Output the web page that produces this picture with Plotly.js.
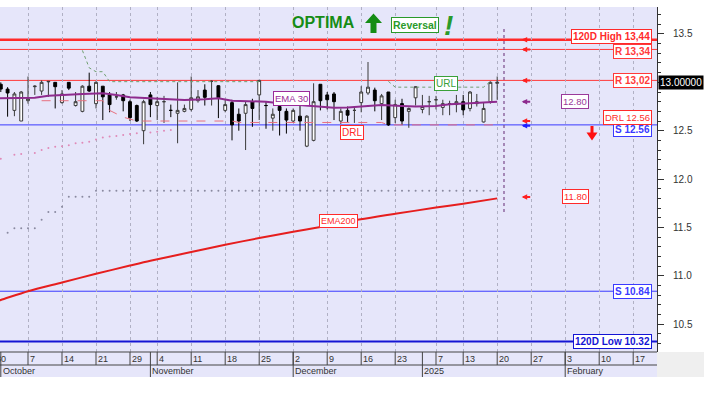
<!DOCTYPE html>
<html><head><meta charset="utf-8">
<script src="https://cdn.plot.ly/plotly-3.0.1.min.js"></script>
<style>html,body{margin:0;padding:0;background:#fff;}#chart{width:704px;height:394px;}</style>
</head><body><div id="chart"></div>
<script>
// trading-day index (0 = 30 Sep 2024, holidays skipped)
const dayIdx = [1,2,3,4,5,6,7,8,9,10,11,12,13,14,15,16,17,18,19,20,21,22,23,24,25,26,27,28,29,30,31,32,33,34,35,36,37,38,39,40,41,42,43,44,45,46,47,48,49,50,51,52,53,54,55,56,57,58,59,60,61,62,63,64,65,66,67,68,69,70,71,72,73,74];
const opens  = [12.98,12.93,12.71,12.60,12.81,12.955,12.91,13.005,13.00,12.79,13.00,12.76,12.70,12.96,12.78,12.96,12.87,12.85,12.87,12.80,12.76,12.50,12.87,12.76,12.80,12.71,12.68,12.70,12.72,12.81,12.92,13.01,12.965,12.71,12.79,12.67,12.68,12.80,12.87,12.76,12.63,12.75,12.70,12.60,12.65,12.34,12.40,12.98,12.87,12.88,12.60,12.71,12.71,12.79,12.89,12.92,12.78,12.90,12.635,12.78,12.70,12.84,12.72,12.80,12.82,12.74,12.78,12.77,12.80,12.73,12.78,12.59,12.80,12.99];
const highs  = [13.00,12.95,12.90,12.91,13.06,12.97,13.02,13.01,13.00,12.92,13.00,12.90,12.97,13.10,13.01,12.96,12.90,12.90,12.88,12.82,12.77,12.82,12.90,12.85,12.86,12.77,13.00,12.77,13.06,12.92,12.98,13.02,12.97,12.82,12.82,12.73,12.80,12.83,13.02,12.80,12.73,12.77,12.73,12.73,12.77,12.66,12.99,12.98,12.90,12.90,12.73,12.75,12.75,12.96,13.21,12.945,12.88,12.90,12.82,12.83,12.74,12.96,12.87,12.86,12.86,12.82,12.81,12.87,12.87,12.91,12.88,12.79,13.01,13.06];
const lows   = [12.90,12.645,12.65,12.60,12.78,12.87,12.87,12.85,12.73,12.78,12.92,12.75,12.69,12.90,12.73,12.61,12.69,12.82,12.70,12.60,12.59,12.36,12.64,12.61,12.58,12.64,12.37,12.69,12.70,12.79,12.76,12.76,12.63,12.69,12.40,12.50,12.30,12.54,12.61,12.52,12.50,12.45,12.47,12.58,12.50,12.33,12.39,12.71,12.72,12.61,12.57,12.59,12.58,12.69,12.87,12.70,12.61,12.55,12.58,12.56,12.53,12.76,12.68,12.66,12.72,12.66,12.66,12.69,12.66,12.70,12.75,12.585,12.78,12.82];
const closes = [12.93,12.89,12.88,12.90,12.83,12.96,13.00,13.01,12.955,12.88,12.94,12.80,12.96,12.91,13.00,12.85,12.77,12.85,12.81,12.635,12.60,12.80,12.77,12.80,12.80,12.71,12.71,12.73,12.84,12.85,12.845,13.01,12.84,12.77,12.56,12.60,12.77,12.73,13.02,12.76,12.67,12.71,12.61,12.71,12.60,12.65,12.80,12.81,12.82,12.80,12.70,12.66,12.71,12.90,12.95,12.81,12.86,12.56,12.77,12.60,12.73,12.955,12.75,12.80,12.82,12.78,12.78,12.80,12.715,12.90,12.80,12.73,13.00,13.00];

const ema30Idx = [0,1,6,8,11,13,16,18,20,23,25,28,31,33,35,38,40,43,45,48,50,52,55,57,60,62,65,67,70,72,74];
const ema30Val = [12.835,12.835,12.84,12.86,12.876,12.88,12.887,12.87,12.845,12.835,12.825,12.817,12.825,12.835,12.81,12.80,12.80,12.776,12.765,12.755,12.738,12.74,12.76,12.766,12.755,12.75,12.755,12.773,12.783,12.794,12.80];
const ema200Idx = [0,1,5,10,15,20,23,29,34,39,44,48,52,59,65,69,74];
const ema200Val = [10.73,10.75,10.84,10.93,11.02,11.105,11.155,11.245,11.32,11.39,11.455,11.505,11.56,11.64,11.705,11.745,11.80];

const urlIdx = [13,14,15,16,17,39,null,58,59,72,73];
const urlVal = [13.33,13.15,13.11,13.11,13.007,13.007,null,13.01,12.95,12.95,13.01];
const drlIdx = [7,16,17,19,21,35,36,57,58,74];
const drlVal = [12.81,12.81,12.71,12.64,12.60,12.60,12.585,12.585,12.56,12.56];
const lowBandIdx = [1,3,4,6,7,8,9,10,11,12,13,14,15,16,17,18,19,20,21,23,24,25,26];
const lowBandVal = [12.21,12.25,12.26,12.27,12.30,12.32,12.335,12.34,12.35,12.37,12.376,12.386,12.41,12.43,12.44,12.445,12.456,12.466,12.473,12.48,12.49,12.50,12.507];
const stepIdx = [2,3,4,5,6,7,8,9,10,11,12,13,14,15,16,17,18,19,20,21,22,23,24,25,26,27,28,29,30,31,32,33,34,35,36,37,38,39,40,41,42,43,44,45,46,47,48,49,50,51,52,53,54,55,56,57,58,59,60,61,62,63,64,65,66,67,68,69,70,71,72,73,74];
const stepVal = [11.445,11.49,11.49,11.49,11.49,11.58,11.66,11.66,11.714,11.817,11.817,11.817,11.817,11.88,11.88,11.88,11.88,11.88,11.88,11.88,11.88,11.88,11.88,11.88,11.88,11.88,11.88,11.88,11.88,11.88,11.88,11.88,11.88,11.88,11.88,11.88,11.88,11.88,11.88,11.88,11.88,11.88,11.88,11.88,11.88,11.88,11.88,11.88,11.88,11.88,11.88,11.88,11.88,11.88,11.88,11.88,11.88,11.88,11.88,11.88,11.88,11.88,11.88,11.88,11.88,11.88,11.88,11.88,11.88,11.88,11.88,11.88,11.88];

// horizontal levels
const levelVals   = [13.44, 13.34, 13.02, 12.56, 10.84, 10.32];
const levelLabels = ['120D High 13,44','R 13,34','R 13,02','S 12.56','S 10.84','120D Low 10.32'];
const levelColors = ['#ff2a2a','#ff3a3a','#ff3a3a','#3a3aff','#3a3aff','#1414d4'];
const levelWidths = [2.5,1,1,1,1,2];
const levelShift  = [3,-2.5,0,-4.5,0,0];

// axis ticks / labels
const yTickVals = [10.5, 11.0, 11.5, 12.0, 12.5, 13.5];
const yTickText = ['10.5','11.0','11.5','12.0','12.5','13.5'];
const weekIdx = [5,10,15,20,24,29,34,39,44,49,54,59,65,69,74,79,84,89,94];
const weekLabels = ['7','14','21','29','4','11','18','25','2','9','16','23','7','13','20','27','3','10','17'];
const monthIdx = [1,23,44,63,84];
const monthLabels = ['October','November','December','2025','February'];

const lastIdx = 75;
const priceNow = 13.0;
const ema30Last = 12.80, ema200Last = 11.80, drlLast = 12.56;

const FONT = 'Liberation Sans, Arial, sans-serif';
const BG = '#e6e6fa';
const GREEN = '#158c15';
const yRange = [10.2115, 13.779];
const xRange = [0.882, 97.5];
const pyTop = 7, pyBot = 352;
const P = py => (pyBot - py) / (pyBot - pyTop);   // pixel row -> paper y
const PX = px => px / 657;                        // pixel column -> paper x
const pathOf = pts => 'M' + pts.map(p => PX(p[0]) + ',' + P(p[1])).join('L') + 'Z';

const traces = [
  {type:'scatter', mode:'markers', x:stepIdx, y:stepVal, marker:{size:2, color:'#8a8aa0'}, hoverinfo:'skip'},
  {type:'scatter', mode:'markers', x:lowBandIdx, y:lowBandVal, marker:{size:2, color:'#e08ab8'}, hoverinfo:'skip'},
  {type:'scatter', mode:'lines', x:ema200Idx, y:ema200Val, line:{color:'#e61e1e', width:2, shape:'spline', smoothing:0.8}, hoverinfo:'skip'},
  {type:'scatter', mode:'lines', x:urlIdx, y:urlVal, connectgaps:false, line:{color:'#6f9f6f', width:1, dash:'dot'}, hoverinfo:'skip'},
  {type:'scatter', mode:'lines', x:drlIdx, y:drlVal, line:{color:'#e8707f', width:1, dash:'dash'}, hoverinfo:'skip'},
  {type:'candlestick', x:dayIdx, open:opens, high:highs, low:lows, close:closes,
   increasing:{line:{color:'#3a3a3a', width:1}, fillcolor:'#ffffff'},
   decreasing:{line:{color:'#000000', width:1}, fillcolor:'#000000'}, whiskerwidth:0, hoverinfo:'skip'},
  {type:'scatter', mode:'lines', x:ema30Idx, y:ema30Val, line:{color:'#8e2b8e', width:2}, hoverinfo:'skip'}
];

const shapes = [];
// axis strip
shapes.push({type:'rect', xref:'paper', yref:'paper', x0:0, x1:1, y0:P(377), y1:0, fillcolor:BG, line:{width:0}, layer:'below'});
shapes.push({type:'rect', xref:'paper', yref:'paper', x0:1, x1:704/657, y0:P(377), y1:0, fillcolor:'#efefef', line:{width:0}, layer:'below'});
shapes.push({type:'line', xref:'paper', yref:'paper', x0:0, x1:1, y0:0, y1:0, line:{color:'#444', width:1}});
shapes.push({type:'line', xref:'paper', yref:'paper', x0:0, x1:1, y0:P(365), y1:P(365), line:{color:'#444', width:1}});
weekIdx.concat(monthIdx).forEach(v => shapes.push({type:'line', xref:'x', yref:'paper', x0:v, x1:v, y0:0, y1:P(365), line:{color:'#444', width:1}}));
monthIdx.forEach(v => shapes.push({type:'line', xref:'x', yref:'paper', x0:v, x1:v, y0:P(365), y1:P(377), line:{color:'#444', width:1}}));
levelVals.forEach((v,i) => shapes.push({type:'line', xref:'paper', yref:'y', x0:0, x1:1, y0:v, y1:v, layer:'below', line:{color:levelColors[i], width:levelWidths[i]}}));
shapes.push({type:'line', xref:'x', yref:'y', x0:lastIdx, x1:lastIdx, y0:11.66, y1:13.56, line:{color:'#7a4a8a', width:1.2, dash:'dot'}});
// green up arrow next to the title
shapes.push({type:'path', xref:'paper', yref:'paper', fillcolor:GREEN, line:{width:0},
  path:pathOf([[370.5,33],[376.5,33],[376.5,23],[382,23],[373.5,13.5],[365,23],[370.5,23]])});
// red down arrow
shapes.push({type:'path', xref:'paper', yref:'paper', fillcolor:'#ff1010', line:{width:0},
  path:pathOf([[590.5,126],[593.5,126],[593.5,132.5],[597.5,132.5],[592,140.5],[586.5,132.5],[590.5,132.5]])});

const ann = [];
const box = (x, y, text, color, opts) => Object.assign({x, y, xref:'x', yref:'y', text, showarrow:false,
  font:{family:FONT, size:10, color}, bgcolor:'#ffffff', bordercolor:color, borderwidth:1, borderpad:1}, opts||{});
// right labels
levelVals.forEach((v,i) => ann.push(box(96.76, v, '<b>'+levelLabels[i]+'</b>', levelColors[i], {xanchor:'right', yshift:levelShift[i]})));
ann.push(box(96.76, drlLast, 'DRL 12.56', '#ff2a2a', {xanchor:'right', yshift:7, font:{family:FONT,size:9.5,color:'#ff2a2a'}}));
ann.push(box(85.5, ema30Last, ema30Last.toFixed(2), '#9a3a9a', {font:{family:FONT,size:9.5,color:'#9a3a9a'}}));
ann.push(box(85.5, ema200Last, ema200Last.toFixed(2), '#ff2a2a', {yshift:2, font:{family:FONT,size:9.5,color:'#ff2a2a'}}));
ann.push(box(66.5, 12.993, 'URL', '#3aa03a'));
ann.push(box(52.7, 12.481, 'DRL', '#ff2a2a'));
ann.push(box(43.75, 12.838, 'EMA 30', '#9a2a9a', {font:{family:FONT,size:9.5,color:'#9a2a9a'}}));
ann.push(box(50.7, 11.561, 'EMA200', '#ff2a2a', {font:{family:FONT,size:9,color:'#ff2a2a'}}));
// small left-pointing arrows
const arrowY = [13.44, 13.34, 13.02, ema30Last, 12.60, 12.55, 11.815];
const arrowC = ['#ff2020','#ff2020','#ff2020','#8e2b8e','#ff2020','#2020ff','#ff2020'];
arrowY.forEach((v,i) => ann.push({x:77.6, y:v, xref:'x', yref:'y', text:'', showarrow:true, ax:10, ay:0,
  arrowhead:2, arrowsize:0.55, arrowwidth:2, arrowcolor:arrowC[i]}));
// price tag
ann.push({x:1, y:priceNow, xref:'paper', yref:'y', xanchor:'left', yanchor:'middle', xshift:1, text:priceNow.toFixed(5), showarrow:false,
  font:{family:FONT, size:10, color:'#ffffff'}, bgcolor:'#000000', borderpad:1});
// title
ann.push({x:PX(323.5), y:P(22.5), xref:'paper', yref:'paper', xanchor:'center', yanchor:'middle', text:'<b>OPTIMA</b>', showarrow:false, font:{family:FONT, size:16, color:GREEN}});
ann.push({x:PX(414.5), y:P(24.5), xref:'paper', yref:'paper', xanchor:'center', yanchor:'middle', text:'<b>Reversal</b>', showarrow:false, font:{family:FONT, size:10.5, color:'#2a9a2a'}, bgcolor:'#fff', bordercolor:'#2a9a2a', borderwidth:1, borderpad:1});
ann.push({x:PX(448.5), y:P(25), xref:'paper', yref:'paper', xanchor:'center', yanchor:'middle', text:'<b><i>!</i></b>', showarrow:false, font:{family:FONT, size:28, color:'#2a9a2a'}});
// x-axis labels
weekIdx.forEach((v,i) => ann.push({x:v, y:P(358.5), xref:'x', yref:'paper', xanchor:'left', yanchor:'middle', xshift:0, text:weekLabels[i], showarrow:false, font:{family:FONT, size:9, color:'#333'}}));
ann.push({x:0, y:P(358.5), xref:'paper', yref:'paper', xanchor:'left', yanchor:'middle', xshift:-6, text:'30', showarrow:false, font:{family:FONT, size:9, color:'#333'}});
monthIdx.forEach((v,i) => ann.push({x:v, y:P(371), xref:'x', yref:'paper', xanchor:'left', yanchor:'middle', xshift:0, text:monthLabels[i], showarrow:false, font:{family:FONT, size:9, color:'#333'}}));

const layout = {
  width:704, height:394, margin:{l:0, r:47, t:pyTop, b:394-pyBot},
  paper_bgcolor:'#ffffff', plot_bgcolor:BG, showlegend:false, dragmode:false,
  xaxis:{range:xRange, type:'linear', rangeslider:{visible:false}, tickvals:weekIdx, showticklabels:false, ticks:'',
         showgrid:true, gridcolor:'#b0b0c4', griddash:'dot', gridwidth:1, zeroline:false, showline:false, fixedrange:true},
  yaxis:{range:yRange, side:'right', showgrid:false, zeroline:false, showline:true, linecolor:'#333', linewidth:1,
         tickmode:'array', tickvals:yTickVals, ticktext:yTickText, ticks:'outside', ticklen:6, tickcolor:'#333',
         tickfont:{family:FONT, size:10, color:'#333'}, ticklabelstandoff:7,
         minor:{tickmode:'linear', tick0:10, dtick:0.1, ticks:'outside', ticklen:3, tickcolor:'#333'}, fixedrange:true},
  boxgap:0.4,
  shapes, annotations:ann
};
Plotly.newPlot('chart', traces, layout, {staticPlot:true, displayModeBar:false});
</script></body></html>
